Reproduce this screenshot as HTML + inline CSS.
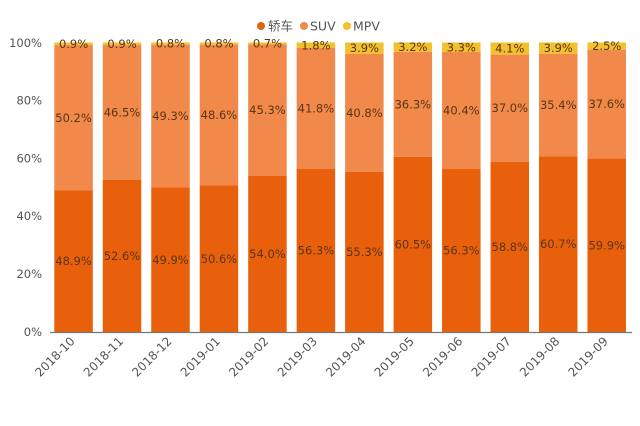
<!DOCTYPE html>
<html><head><meta charset="utf-8"><style>
html,body{margin:0;padding:0;background:#fff;}
svg{display:block;}
text{font-family:"DejaVu Sans","Liberation Sans","Noto Sans CJK SC",sans-serif;}
</style></head><body>
<svg width="640" height="426" viewBox="0 0 640 426" xmlns="http://www.w3.org/2000/svg">
<rect width="640" height="426" fill="#fff"/>
<!-- legend -->
<circle cx="261" cy="26" r="4" fill="#E2640F"/>
<text x="268" y="30.5" font-size="12.5" fill="#555" font-family="'Noto Sans CJK SC',sans-serif">轿车</text>
<circle cx="304" cy="26" r="4" fill="#F0894A"/>
<text x="310" y="30.5" font-size="12.5" fill="#555">SUV</text>
<circle cx="347" cy="26" r="4" fill="#F2C12E"/>
<text x="353" y="30.5" font-size="12.5" fill="#555">MPV</text>
<!-- y labels -->
<g font-size="11.5" fill="#555" text-anchor="end">
<text x="42" y="336">0%</text>
<text x="42" y="278">20%</text>
<text x="42" y="220">40%</text>
<text x="42" y="162.5">60%</text>
<text x="42" y="104.5">80%</text>
<text x="42" y="47">100%</text>
</g>
<g id="bars"></g>
<line x1="50" y1="332.5" x2="632" y2="332.5" stroke="#777" stroke-width="1.2"/>
<g id="xl" font-size="12" fill="#555" text-anchor="end"></g>
<script>
var sed=[48.9,52.6,49.9,50.6,54.0,56.3,55.3,60.5,56.3,58.8,60.7,59.9];
var suv=[50.2,46.5,49.3,48.6,45.3,41.8,40.8,36.3,40.4,37.0,35.4,37.6];
var mpv=[0.9,0.9,0.8,0.8,0.7,1.8,3.9,3.2,3.3,4.1,3.9,2.5];
var lab=["2018-10","2018-11","2018-12","2019-01","2019-02","2019-03","2019-04","2019-05","2019-06","2019-07","2019-08","2019-09"];
var y0=332,k=2.895,ns="http://www.w3.org/2000/svg";
var g=document.getElementById("bars"),xl=document.getElementById("xl");
function r(x,y,w,h,c){var e=document.createElementNS(ns,"rect");e.setAttribute("x",x);e.setAttribute("y",y);e.setAttribute("width",w);e.setAttribute("height",h);e.setAttribute("fill",c);g.appendChild(e);}
function t(x,y,s,p){var e=document.createElementNS(ns,"text");e.setAttribute("x",x);e.setAttribute("y",y);e.setAttribute("font-size","11.5");e.setAttribute("fill","#5c3514");e.setAttribute("text-anchor","middle");e.textContent=s;p.appendChild(e);}
for(var i=0;i<12;i++){
 var x=54.3+48.47*i,w=38.5,cx=x+w/2;
 var h1=sed[i]*k,h2=suv[i]*k,h3=mpv[i]*k;
 var ya=y0-h1,yb=ya-h2,yc=y0-100*k;
 r(x,yc,w,yb-yc,"#F2C12E");
 r(x,yb,w,h2,"#F0894A");
 r(x,ya,w,h1,"#E8600C");
 t(cx,ya+h1/2+4,sed[i].toFixed(1)+"%",g);
 t(cx,yb+h2/2+4,suv[i].toFixed(1)+"%",g);
 t(cx,(yc+yb)/2+4,mpv[i].toFixed(1)+"%",g);
 var e=document.createElementNS(ns,"text");
 var ax=cx+2,ay=342;
 e.setAttribute("x",ax);e.setAttribute("y",ay);
 e.setAttribute("transform","rotate(-45 "+ax+" "+ay+")");
 e.textContent=lab[i];xl.appendChild(e);
}
</script>
</svg>
</body></html>
